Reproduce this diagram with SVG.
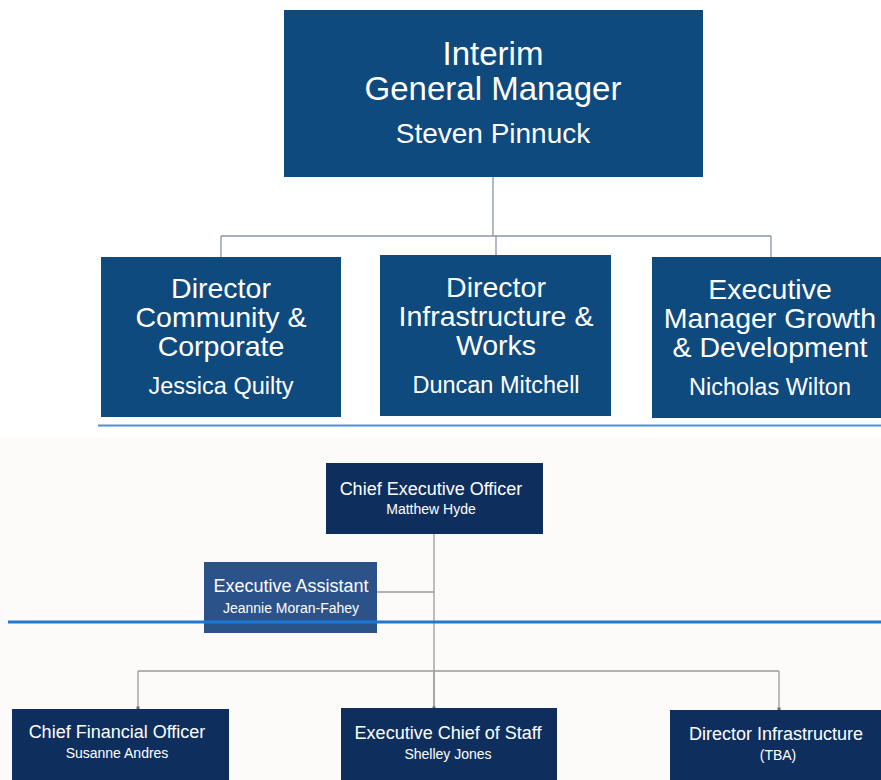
<svg xmlns="http://www.w3.org/2000/svg" width="881" height="780" viewBox="0 0 881 780">
<style>
.top{fill:#0f4a7f}
.bot{fill:#0e2f5e}
.ea{fill:#2b5289}
.t{font-family:"Liberation Sans",Arial,sans-serif;fill:#ffffff;text-anchor:middle}
.conn{stroke:#8a95a8;stroke-width:1.3;fill:none}
.conn2{stroke:#9a9a9a;stroke-width:1.3;fill:none}
</style>
<defs>
<marker id="dot" markerWidth="4" markerHeight="4" refX="2" refY="2" markerUnits="userSpaceOnUse">
<rect x="0.5" y="0.5" width="3" height="3" fill="#6a6a6a"/>
</marker>
</defs>
<rect x="0" y="0" width="881" height="780" fill="#ffffff"/>
<rect x="0" y="437" width="881" height="343" fill="#fcfbfa"/>
<g id="connectors">
<path class="conn" d="M493 177 V236 M221 236 H771 M221 236 V257 M496 236 V255 M771 236 V257"/>
<path class="conn2" d="M434 534 V708 M377 592 H434"/>
<path class="conn2" d="M138 671 H779"/>
<path class="conn2" d="M138 671 V708" marker-end="url(#dot)"/>
<path class="conn2" d="M434 671 V708" marker-end="url(#dot)"/>
<path class="conn2" d="M779 671 V709" marker-end="url(#dot)"/>
</g>
<g id="gm">
<rect class="top" x="284" y="10" width="419" height="167"/>
<text class="t" x="493" y="65" font-size="33">Interim</text>
<text class="t" x="493" y="100" font-size="33">General Manager</text>
<text class="t" x="493" y="143" font-size="28">Steven Pinnuck</text>
</g>
<g id="dir-community">
<rect class="top" x="101" y="257" width="240" height="160"/>
<text class="t" x="221" y="298" font-size="28.5">Director</text>
<text class="t" x="221" y="327" font-size="28.5">Community &amp;</text>
<text class="t" x="221" y="356" font-size="28.5">Corporate</text>
<text class="t" x="221" y="394" font-size="23.5">Jessica Quilty</text>
</g>
<g id="dir-infra">
<rect class="top" x="380" y="255" width="231" height="161"/>
<text class="t" x="496" y="297" font-size="28.5">Director</text>
<text class="t" x="496" y="326" font-size="28.5">Infrastructure &amp;</text>
<text class="t" x="496" y="355" font-size="28.5">Works</text>
<text class="t" x="496" y="393" font-size="23.5">Duncan Mitchell</text>
</g>
<g id="exec-growth">
<rect class="top" x="652" y="257" width="229" height="161"/>
<text class="t" x="770" y="299" font-size="28.5">Executive</text>
<text class="t" x="770" y="328" font-size="28.5">Manager Growth</text>
<text class="t" x="770" y="357" font-size="28.5">&amp; Development</text>
<text class="t" x="770" y="395" font-size="23.5">Nicholas Wilton</text>
</g>
<line x1="98" y1="425.5" x2="881" y2="425.5" stroke="#4d8fd6" stroke-width="2"/>
<g id="ceo">
<rect class="bot" x="326" y="463" width="217" height="71"/>
<text class="t" x="431" y="495" font-size="18">Chief Executive Officer</text>
<text class="t" x="431" y="514" font-size="14">Matthew Hyde</text>
</g>
<g id="ea">
<rect class="ea" x="204" y="562" width="173" height="71"/>
<text class="t" x="291" y="592" font-size="18">Executive Assistant</text>
<text class="t" x="291" y="613" font-size="14">Jeannie Moran-Fahey</text>
</g>
<line x1="8" y1="622" x2="881" y2="622" stroke="#1d78d4" stroke-width="3"/>
<g id="cfo">
<rect class="bot" x="12" y="709" width="217" height="71"/>
<text class="t" x="117" y="738" font-size="18">Chief Financial Officer</text>
<text class="t" x="117" y="758" font-size="14">Susanne Andres</text>
</g>
<g id="chief-staff">
<rect class="bot" x="341" y="708" width="216" height="72"/>
<text class="t" x="448" y="739" font-size="18">Executive Chief of Staff</text>
<text class="t" x="448" y="759" font-size="14">Shelley Jones</text>
</g>
<g id="dir-infra-tba">
<rect class="bot" x="670" y="710" width="211" height="70"/>
<text class="t" x="776" y="740" font-size="18">Director Infrastructure</text>
<text class="t" x="778" y="760" font-size="14">(TBA)</text>
</g>
</svg>
